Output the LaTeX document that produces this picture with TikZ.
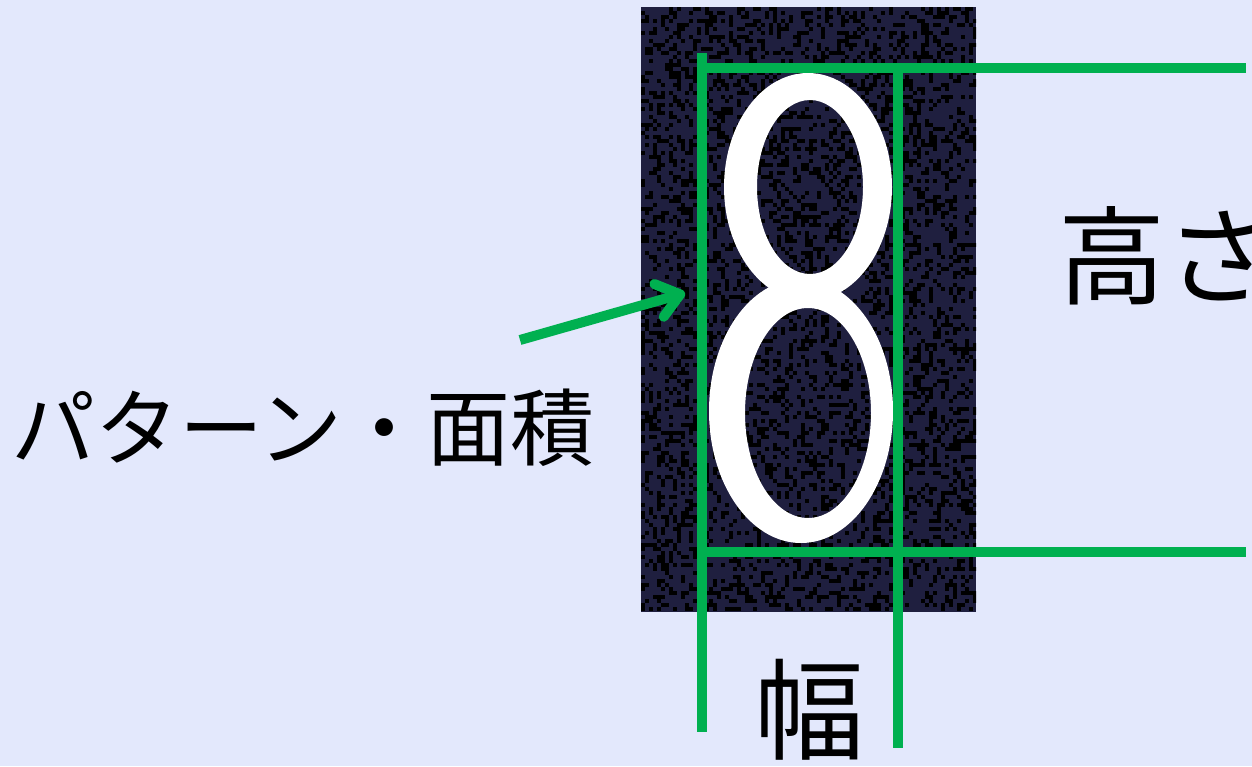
\documentclass[tikz,border=0pt]{standalone}
\usepackage{fontspec}
\newfontfamily\jpfont{Noto Sans CJK JP}
\usetikzlibrary{arrows.meta}
\definecolor{bgblue}{HTML}{E3E8FC}
\definecolor{navy}{HTML}{1F1F3F}
\definecolor{grn}{HTML}{00B050}
\begin{document}
\begin{tikzpicture}[x=1pt,y=-1pt,
  gline/.style={grn, line width=10pt},
  lbl/.style={inner sep=0pt, text=black}]
\fill[bgblue] (0,0) rectangle (1252,766);
\useasboundingbox (0,0) rectangle (1252,766);
% noisy dark image
\fill[navy] (641,7) rectangle (976,612);
\begin{scope}
\clip (641,7) rectangle (976,612);
\pgfmathsetseed{42}
\foreach \i in {0,...,83}{
  \foreach \j in {0,...,150}{
    \pgfmathrandominteger{\r}{0}{99}
    \ifnum\r<33 \fill[black] ({641+4*\i},{7+4*\j}) rectangle +(4,4);\fi
  }
}
\end{scope}
% the digit 8
\fill[white, even odd rule] (808,187) ellipse [x radius=84, y radius=114]
                            (810,187) ellipse [x radius=53, y radius=87];
\fill[white, even odd rule] (801,411) ellipse [x radius=92, y radius=132]
                            (808,413) ellipse [x radius=63, y radius=105];
% green guide lines
\coordinate (l1a) at (702,53);
\coordinate (l1b) at (702,732);
\coordinate (l2a) at (898,68);
\coordinate (l2b) at (898,748);
\coordinate (h1a) at (702,68);
\coordinate (h1b) at (1246,68);
\coordinate (h2a) at (702,552);
\coordinate (h2b) at (1246,552);
\draw[gline] (l1a) -- (l1b);
\draw[gline] (l2a) -- (l2b);
\draw[gline] (h1a) -- (h1b);
\draw[gline] (h2a) -- (h2b);
% labels
\node[lbl, font=\jpfont\fontsize{84}{84}\selectfont] (pat) at (303,428) {パターン・面積};
\node[lbl, font=\jpfont\fontsize{107}{107}\selectfont, anchor=west] (hgt) at (1058,256) {高さ};
\node[lbl, font=\jpfont\fontsize{110}{110}\selectfont] (wid) at (809,710) {幅};
% arrow
\coordinate (at) at (520,340);
\coordinate (ah) at (685,293);
\draw[gline, -{Straight Barb[length=22pt,width=34pt,round]}] (at) -- (ah);
\end{tikzpicture}
\end{document}
